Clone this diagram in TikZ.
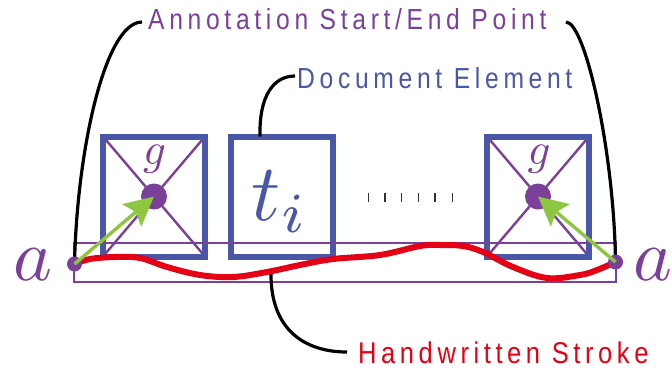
\documentclass[tikz,border=0pt]{standalone}
\usepackage{fontspec}
\usepackage{graphicx}
\usetikzlibrary{arrows.meta}
\newfontfamily\labelfont{Liberation Sans}

\definecolor{annpurple}{RGB}{123,64,152}
\definecolor{docblue}{RGB}{74,86,166}
\definecolor{inkred}{RGB}{230,0,22}
\definecolor{arrgreen}{RGB}{141,198,63}
\definecolor{tickgray}{RGB}{50,50,50}

\tikzset{
  elem/.style={draw=docblue, line width=6bp, minimum width=102bp, minimum height=120bp,
               outer sep=0pt, inner sep=0pt},
  cross/.style={draw=annpurple, line width=2.4bp},
  spanbox/.style={draw=annpurple, line width=2.6bp, minimum width=542bp, minimum height=39bp,
                  outer sep=0pt, inner sep=0pt},
  enddot/.style={circle, fill=annpurple, minimum size=15bp, inner sep=0pt},
  gdot/.style={circle, fill=annpurple, minimum size=26bp, inner sep=0pt},
  leader/.style={draw=black, line width=3.2bp},
  jump/.style={draw=arrgreen, line width=3.4bp, -{Stealth[length=29bp,width=29bp,inset=5bp]}},
  ink/.style={draw=inkred, line width=6bp, line cap=round, line join=round},
  lbl/.style={anchor=base west, inner sep=0pt},
  mathlbl/.style={anchor=base, inner sep=0pt},
  tickmark/.style={draw=tickgray, line width=1.4bp},
}

% labels: narrowed, letter-spaced sans (size, letter spacing, text)
\newcommand{\lbltext}[3]{\scalebox{0.85}[1]{\fontsize{#1}{#1}\selectfont\labelfont\addfontfeatures{LetterSpace=#2}#3}}
% large math letters (scaled from 10pt)
\newcommand{\bigmath}[2]{\scalebox{#1}{$#2$}}

\begin{document}
\begin{tikzpicture}[x=1bp, y=-1bp]
  \useasboundingbox (0,0) rectangle (672,372);

  % document elements
  \node[elem] (box1) at (154,196.5) {};
  \node[elem] (box2) at (282,196.5) {};
  \node[elem] (box3) at (538,196.5) {};

  % crossed-out graphic boxes
  \draw[cross] (box1.north west) -- (box1.south east);
  \draw[cross] (box1.north east) -- (box1.south west);
  \draw[cross] (box3.north west) -- (box3.south east);
  \draw[cross] (box3.north east) -- (box3.south west);
  \node[elem] at (box1) {};
  \node[elem] at (box3) {};

  % glyph labels
  \node[mathlbl, text=annpurple] (g1) at (154.5,164) {\bigmath{4.5}{g}};
  \node[mathlbl, text=annpurple] (g3) at (539,164) {\bigmath{4.5}{g}};
  \node[mathlbl, text=docblue] (ti) at (280,220) {\bigmath{8.1}{t_i}};

  % elided elements
  \foreach \x in {368.3,385,401.7,418.3,435,452.7}
    \draw[tickmark] (\x,193) -- (\x,202);

  % annotation span
  \node[spanbox] (span) at (345,262.5) {};

  % labels
  \node[lbl, text=annpurple] (anno) at (148,29.5) {\lbltext{29bp}{19}{Annotation Start/End Point}};
  \node[lbl, text=docblue] (doc) at (297,88.5) {\lbltext{29bp}{19}{Document Element}};
  \node[lbl, text=inkred] (hw) at (358,363) {\lbltext{30bp}{18}{Handwritten Stroke}};

  \coordinate (annoA) at (142,22);
  \coordinate (annoB) at (566,22);
  \coordinate (docA) at (295,76);
  \coordinate (docfoot) at (260,136.5);
  \coordinate (hwA) at (347,352);
  \coordinate (hwfoot) at (271,272);

  % end points
  \coordinate (pL) at (74.5,264);
  \coordinate (pR) at (615.5,262);

  % leaders
  \draw[leader] (pL) .. controls (77,150) and (105,22) .. (annoA);
  \draw[leader] (pR) .. controls (614,150) and (585,22) .. (annoB);
  \draw[leader] (docfoot) .. controls (259,95) and (274,76) .. (docA);
  \draw[leader] (hwfoot) .. controls (270,330) and (305,352) .. (hwA);

  % handwritten stroke
  \draw[ink] plot[smooth, tension=0.6] coordinates {
    (pL) (90,259) (115,257) (140,258) (167,267) (200,275) (233,277) (267,272)
    (300,265) (333,259) (380,255) (420,246) (440,245) (463,246) (483,252)
    (513,267) (547,278) (580,275) (597,270) (pR)};

  % dots
  \node[enddot] (dotL) at (pL) {};
  \node[enddot] (dotR) at (pR) {};
  \node[gdot] (gL) at (box1) {};
  \node[gdot] (gR) at (box3) {};

  % links from end points to graphics
  \draw[jump] (dotL.center) -- (gL.center);
  \draw[jump] (dotR.center) -- (gR.center);

  % end point letters
  \node[mathlbl, text=annpurple] (aL) at (33,280) {\bigmath{7.4}{a}};
  \node[mathlbl, text=annpurple] (aR) at (653,280) {\bigmath{7.4}{a}};
\end{tikzpicture}
\end{document}
